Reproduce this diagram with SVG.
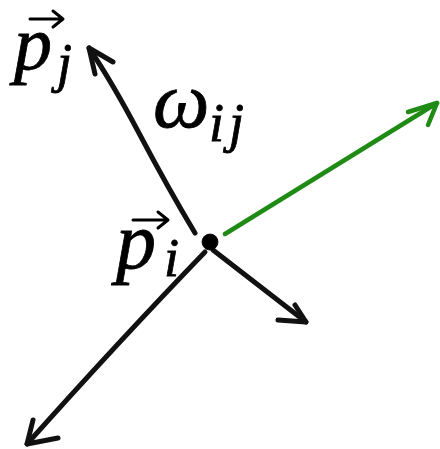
<svg xmlns="http://www.w3.org/2000/svg" width="440" height="449" viewBox="0 0 440 449">
<style>
.ln{fill:none;stroke:#111;stroke-width:5;stroke-linecap:round;stroke-linejoin:round}
.gr{fill:none;stroke:#1f8a14;stroke-width:4.5;stroke-linecap:round;stroke-linejoin:round}
.acc{fill:none;stroke:#000;stroke-width:3;stroke-linecap:round;stroke-linejoin:round}
</style>
<rect width="440" height="449" fill="#fff"/>
<g id="connectors">
  <path class="ln" d="M195,233 Q168,188 140,135 T89,48"/>
  <path class="ln" d="M113,62 L89,48 L95,74"/>
  <path class="gr" d="M225,234 Q300,188 437,103"/>
  <path class="gr" d="M408,112 L437,103 L428,125"/>
  <path class="ln" d="M213,250 L306,322"/>
  <path class="ln" d="M278,320 L306,322 L295,305"/>
  <path class="ln" d="M205,252 Q120,340 27,444"/>
  <path class="ln" d="M58,438 L27,444 L33,420"/>
</g>
<g font-family="Liberation Serif, Times New Roman, serif" font-style="italic" fill="#000" stroke="#000" stroke-width="0.8">
<g id="node-pi">
  <circle cx="210" cy="242" r="8" fill="#000"/>
  <text x="116" y="268" font-size="80">p</text>
  <text x="164" y="276" font-size="54">i</text>
  <path class="acc" d="M133,220 L167,220 M158,212 L168,220 L158,228"/>
</g>
<g id="node-pj">
  <text x="14" y="69" font-size="76">p</text>
  <text x="57" y="81" font-size="54">j</text>
  <path class="acc" d="M30,19 L62,19 M53,11 L63,19 L53,27"/>
</g>
<g id="label-wij">
  <text x="153" y="127" font-size="80">ω</text>
  <text x="209" y="141" font-size="54">i</text>
  <text x="229" y="141" font-size="54">j</text>
</g>
</g>
</svg>
